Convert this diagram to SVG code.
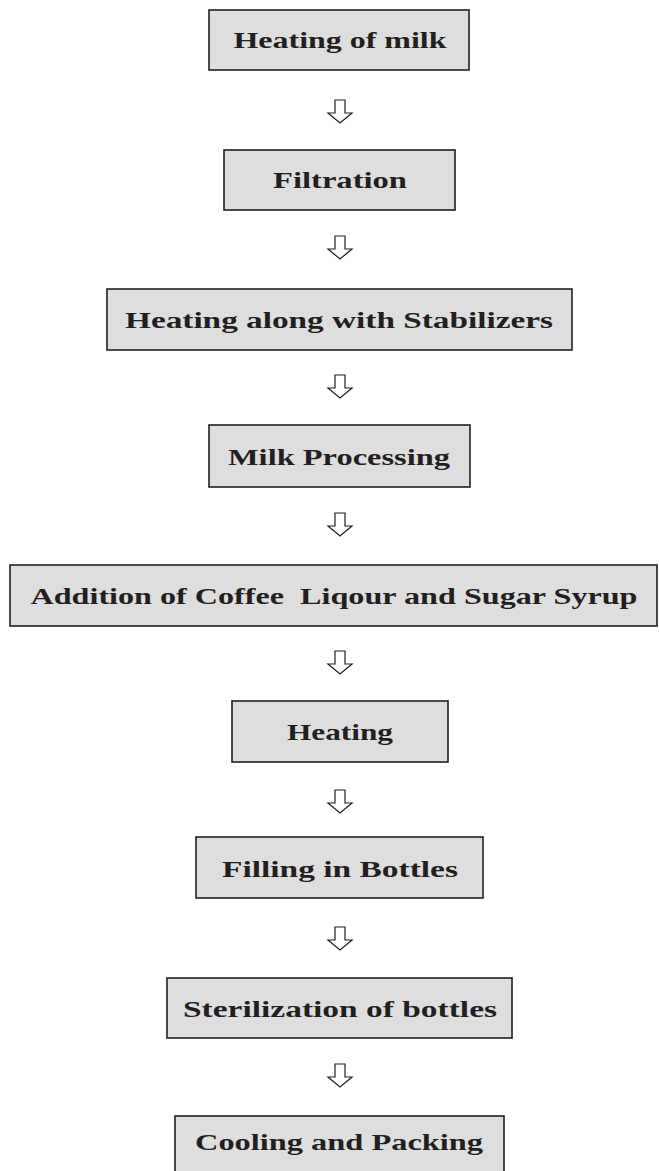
<svg xmlns="http://www.w3.org/2000/svg" width="659" height="1171" viewBox="0 0 659 1171">
<style>
.box{fill:#dedede;stroke:#231f20;stroke-width:1.6}
.lbl{font-family:"Liberation Serif","DejaVu Serif",serif;font-weight:bold;font-size:24px;fill:#231f20;text-anchor:middle;white-space:pre}
.arr{fill:#fff;stroke:#231f20;stroke-width:1.2;stroke-linejoin:miter}
</style>
<defs>
<path id="arrow" class="arr" d="M-5,0 H5 V13 H12 L0,23 L-12,13 H-5 Z"/>
</defs>
<rect width="659" height="1171" fill="#fff"/>
<g id="n1"><rect class="box" x="209" y="10" width="260" height="60"/><text class="lbl" x="340" y="48" textLength="213" lengthAdjust="spacingAndGlyphs">Heating of milk</text></g>
<g id="n2"><rect class="box" x="224" y="150" width="231" height="60"/><text class="lbl" x="340" y="188" textLength="134" lengthAdjust="spacingAndGlyphs">Filtration</text></g>
<g id="n3"><rect class="box" x="107" y="289" width="465" height="61"/><text class="lbl" x="339" y="328" textLength="428" lengthAdjust="spacingAndGlyphs">Heating along with Stabilizers</text></g>
<g id="n4"><rect class="box" x="209" y="425" width="261" height="62"/><text class="lbl" x="339" y="465" textLength="222" lengthAdjust="spacingAndGlyphs">Milk Processing</text></g>
<g id="n5"><rect class="box" x="10" y="565" width="647" height="61"/><text class="lbl" x="334" y="604" textLength="607" lengthAdjust="spacingAndGlyphs">Addition of Coffee  Liqour and Sugar Syrup</text></g>
<g id="n6"><rect class="box" x="232" y="701" width="216" height="61"/><text class="lbl" x="340" y="740" textLength="106" lengthAdjust="spacingAndGlyphs">Heating</text></g>
<g id="n7"><rect class="box" x="196" y="837" width="287" height="61"/><text class="lbl" x="340" y="877" textLength="236" lengthAdjust="spacingAndGlyphs">Filling in Bottles</text></g>
<g id="n8"><rect class="box" x="167" y="978" width="345" height="60"/><text class="lbl" x="340" y="1017" textLength="314" lengthAdjust="spacingAndGlyphs">Sterilization of bottles</text></g>
<g id="n9"><rect class="box" x="175" y="1116" width="329" height="70"/><text class="lbl" x="339" y="1150" textLength="288" lengthAdjust="spacingAndGlyphs">Cooling and Packing</text></g>
<g id="connectors">
<use href="#arrow" x="340" y="100"/>
<use href="#arrow" x="340" y="236"/>
<use href="#arrow" x="340" y="375"/>
<use href="#arrow" x="340" y="513"/>
<use href="#arrow" x="340" y="651"/>
<use href="#arrow" x="340" y="790"/>
<use href="#arrow" x="340" y="927"/>
<use href="#arrow" x="340" y="1064"/>
</g>
</svg>
